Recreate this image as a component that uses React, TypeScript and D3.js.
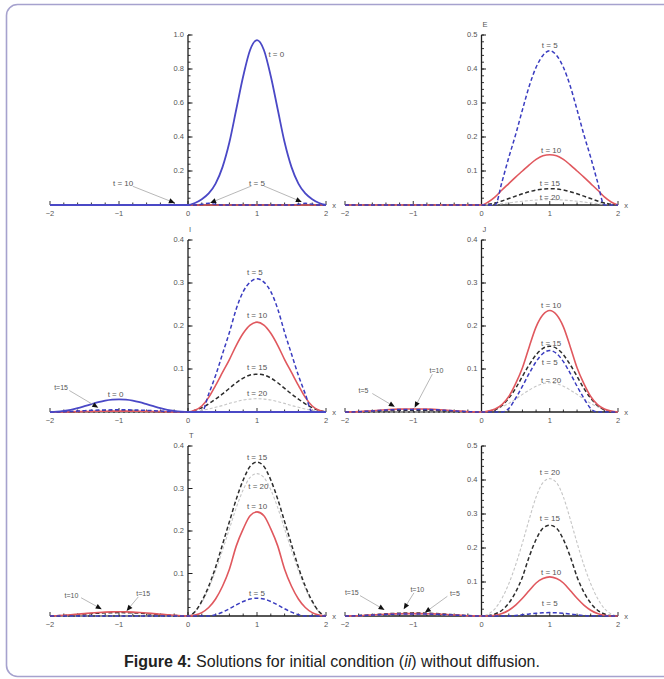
import React from "react";
import * as d3 from "d3";

// x grid shared by every curve
const xs = [-2, -1.9, -1.8, -1.7, -1.6, -1.5, -1.4, -1.3, -1.2, -1.1, -1, -0.9, -0.8, -0.7, -0.6, -0.5, -0.4, -0.3, -0.2, -0.1,
  0, 0.1, 0.2, 0.3, 0.4, 0.5, 0.6, 0.7, 0.8, 0.9, 1, 1.1, 1.2, 1.3, 1.4, 1.5, 1.6, 1.7, 1.8, 1.9, 2];
const xTicks = [-2, -1, 0, 1, 2];

// S panel
const sT0 = [0, 0, 0, 0, 0, 0, 0, 0, 0, 0, 0, 0, 0, 0, 0, 0, 0, 0, 0, 0,
  0, 0.012, 0.034, 0.068, 0.126, 0.223, 0.369, 0.563, 0.757, 0.912, 0.97, 0.912, 0.757, 0.563, 0.369, 0.223, 0.126, 0.068, 0.034, 0.012, 0];
const sT5 = [0, 0, 0, 0, 0, 0, 0, 0, 0, 0, 0, 0, 0, 0, 0, 0, 0, 0, 0, 0,
  0, 0, 0.004, 0.01, 0.004, 0, 0, 0, 0, 0, 0, 0, 0, 0, 0, 0, 0.004, 0.01, 0.004, 0, 0];
const sT10 = [0, 0, 0, 0, 0, 0, 0, 0, 0, 0, 0, 0, 0, 0, 0, 0, 0, 0, 0, 0,
  0, 0, 0, 0, 0, 0, 0, 0, 0, 0, 0, 0, 0, 0, 0, 0, 0, 0, 0, 0, 0];
const sT15 = [0, 0, 0, 0, 0, 0, 0, 0, 0, 0, 0, 0, 0, 0, 0, 0, 0, 0, 0, 0,
  0, 0, 0, 0, 0, 0, 0, 0, 0, 0, 0, 0, 0, 0, 0, 0, 0, 0, 0, 0, 0];

// E panel
const eT5 = [0, 0, 0, 0, 0, 0, 0, 0, 0, 0, 0, 0, 0, 0, 0, 0, 0, 0, 0, 0,
  0, 0, 0, 0.068, 0.14, 0.207, 0.28, 0.35, 0.405, 0.44, 0.454, 0.44, 0.405, 0.35, 0.28, 0.207, 0.14, 0.068, 0, 0, 0];
const eT10 = [0, 0, 0, 0, 0, 0, 0, 0, 0, 0, 0, 0, 0, 0, 0, 0, 0, 0, 0, 0,
  0, 0.009, 0.024, 0.044, 0.063, 0.082, 0.1, 0.118, 0.134, 0.145, 0.148, 0.145, 0.134, 0.118, 0.1, 0.082, 0.063, 0.044, 0.024, 0.009, 0];
const eT15 = [0, 0, 0, 0, 0, 0, 0, 0, 0, 0, 0, 0, 0, 0, 0, 0, 0, 0, 0, 0,
  0, 0.002, 0.006, 0.012, 0.019, 0.026, 0.033, 0.039, 0.044, 0.047, 0.048, 0.047, 0.044, 0.039, 0.033, 0.026, 0.019, 0.012, 0.006, 0.002, 0];
const eT20 = [0, 0, 0, 0, 0, 0, 0, 0, 0, 0, 0, 0, 0, 0, 0, 0, 0, 0, 0, 0,
  0, 0.0007, 0.002, 0.004, 0.0063, 0.0087, 0.011, 0.013, 0.0145, 0.0155, 0.016, 0.0155, 0.0145, 0.013, 0.011, 0.0087, 0.0063, 0.004, 0.002, 0.0007, 0];

// I panel
const iT0 = [0, 0.0008, 0.0025, 0.0052, 0.009, 0.0135, 0.0182, 0.0228, 0.0265, 0.0288, 0.0295, 0.0288, 0.0265, 0.0228, 0.0182, 0.0135, 0.009, 0.0052, 0.0025, 0.0008,
  0, 0, 0, 0, 0, 0, 0, 0, 0, 0, 0, 0, 0, 0, 0, 0, 0, 0, 0, 0, 0];
const iT5 = [0, 0.0002, 0.0007, 0.0014, 0.0022, 0.003, 0.0038, 0.0044, 0.0048, 0.005, 0.005, 0.005, 0.0048, 0.0044, 0.0038, 0.003, 0.0022, 0.0014, 0.0007, 0.0002,
  0, 0, 0, 0.042, 0.085, 0.135, 0.185, 0.24, 0.28, 0.302, 0.31, 0.302, 0.28, 0.24, 0.185, 0.135, 0.085, 0.042, 0, 0, 0];
const iT10 = [0, 0, 0.0002, 0.0005, 0.0008, 0.0011, 0.0014, 0.0017, 0.0019, 0.002, 0.002, 0.002, 0.0019, 0.0017, 0.0014, 0.0011, 0.0008, 0.0005, 0.0002, 0,
  0, 0.004, 0.014, 0.034, 0.062, 0.092, 0.122, 0.155, 0.183, 0.202, 0.209, 0.202, 0.183, 0.155, 0.122, 0.092, 0.062, 0.034, 0.014, 0.004, 0];
const iT15 = [0, 0.0001, 0.0003, 0.0007, 0.0011, 0.0016, 0.0021, 0.0025, 0.0028, 0.003, 0.003, 0.003, 0.0028, 0.0025, 0.0021, 0.0016, 0.0011, 0.0007, 0.0003, 0.0001,
  0, 0.004, 0.01, 0.019, 0.03, 0.042, 0.055, 0.068, 0.079, 0.086, 0.088, 0.086, 0.079, 0.068, 0.055, 0.042, 0.03, 0.019, 0.01, 0.004, 0];
const iT20 = [0, 0, 0, 0, 0, 0, 0, 0, 0, 0, 0, 0, 0, 0, 0, 0, 0, 0, 0, 0,
  0, 0.001, 0.004, 0.007, 0.011, 0.015, 0.02, 0.024, 0.028, 0.03, 0.031, 0.03, 0.028, 0.024, 0.02, 0.015, 0.011, 0.007, 0.004, 0.001, 0];

// J panel
const jT5 = [0, 0.0002, 0.0008, 0.0017, 0.0026, 0.0036, 0.0046, 0.0053, 0.0058, 0.006, 0.006, 0.006, 0.0058, 0.0053, 0.0046, 0.0036, 0.0026, 0.0017, 0.0008, 0.0002,
  0, 0, 0, 0, 0.008, 0.032, 0.06, 0.09, 0.117, 0.136, 0.143, 0.136, 0.117, 0.09, 0.06, 0.032, 0.008, 0, 0, 0, 0];
const jT10 = [0, 0.0003, 0.0009, 0.002, 0.003, 0.0042, 0.0053, 0.0062, 0.0068, 0.007, 0.007, 0.007, 0.0068, 0.0062, 0.0053, 0.0042, 0.003, 0.002, 0.0009, 0.0003,
  0, 0.002, 0.007, 0.017, 0.036, 0.066, 0.103, 0.152, 0.198, 0.226, 0.236, 0.226, 0.198, 0.152, 0.103, 0.066, 0.036, 0.017, 0.007, 0.002, 0];
const jT15 = [0, 0.0001, 0.0005, 0.0011, 0.0017, 0.0024, 0.003, 0.0035, 0.0039, 0.004, 0.004, 0.004, 0.0039, 0.0035, 0.003, 0.0024, 0.0017, 0.0011, 0.0005, 0.0001,
  0, 0.001, 0.005, 0.015, 0.032, 0.055, 0.083, 0.11, 0.133, 0.148, 0.153, 0.148, 0.133, 0.11, 0.083, 0.055, 0.032, 0.015, 0.005, 0.001, 0];
const jT20 = [0, 0, 0, 0, 0, 0, 0, 0, 0, 0, 0, 0, 0, 0, 0, 0, 0, 0, 0, 0,
  0, 0.002, 0.006, 0.012, 0.02, 0.03, 0.041, 0.051, 0.06, 0.066, 0.068, 0.066, 0.06, 0.051, 0.041, 0.03, 0.02, 0.012, 0.006, 0.002, 0];

// T panel
const tT5 = [0, 0, 0, 0, 0, 0, 0, 0, 0, 0, 0, 0, 0, 0, 0, 0, 0, 0, 0, 0,
  0, 0, 0, 0, 0.003, 0.009, 0.017, 0.026, 0.034, 0.04, 0.042, 0.04, 0.034, 0.026, 0.017, 0.009, 0.003, 0, 0, 0, 0];
const tT10 = [0, 0.0006, 0.0016, 0.0028, 0.0042, 0.0056, 0.007, 0.0082, 0.0092, 0.0098, 0.01, 0.0098, 0.0092, 0.0082, 0.007, 0.0056, 0.0042, 0.0028, 0.0016, 0.0006,
  0, 0.002, 0.008, 0.02, 0.04, 0.07, 0.11, 0.165, 0.205, 0.236, 0.245, 0.236, 0.205, 0.165, 0.11, 0.07, 0.04, 0.02, 0.008, 0.002, 0];
const tT15 = [0, 0.0005, 0.0013, 0.0022, 0.0034, 0.0045, 0.0056, 0.0066, 0.0074, 0.0078, 0.008, 0.0078, 0.0074, 0.0066, 0.0056, 0.0045, 0.0034, 0.0022, 0.0013, 0.0005,
  0, 0.01, 0.035, 0.07, 0.115, 0.168, 0.222, 0.275, 0.32, 0.352, 0.362, 0.352, 0.32, 0.275, 0.222, 0.168, 0.115, 0.07, 0.035, 0.01, 0];
const tT20 = [0, 0, 0, 0, 0, 0, 0, 0, 0, 0, 0, 0, 0, 0, 0, 0, 0, 0, 0, 0,
  0, 0.01, 0.032, 0.065, 0.107, 0.155, 0.205, 0.255, 0.297, 0.326, 0.335, 0.326, 0.297, 0.255, 0.205, 0.155, 0.107, 0.065, 0.032, 0.01, 0];

// R panel
const rT5 = [0, 0.0002, 0.0008, 0.0017, 0.0026, 0.0036, 0.0046, 0.0053, 0.0058, 0.006, 0.006, 0.006, 0.0058, 0.0053, 0.0046, 0.0036, 0.0026, 0.0017, 0.0008, 0.0002,
  0, 0, 0, 0, 0, 0.0015, 0.0035, 0.006, 0.008, 0.0095, 0.01, 0.0095, 0.008, 0.006, 0.0035, 0.0015, 0, 0, 0, 0, 0];
const rT10 = [0, 0.0003, 0.0009, 0.002, 0.003, 0.0042, 0.0053, 0.0062, 0.0068, 0.007, 0.007, 0.007, 0.0068, 0.0062, 0.0053, 0.0042, 0.003, 0.002, 0.0009, 0.0003,
  0, 0, 0.002, 0.007, 0.017, 0.032, 0.052, 0.075, 0.097, 0.11, 0.115, 0.11, 0.097, 0.075, 0.052, 0.032, 0.017, 0.007, 0.002, 0, 0];
const rT15 = [0, 0.0005, 0.0014, 0.0025, 0.0038, 0.005, 0.0063, 0.0074, 0.0083, 0.0088, 0.009, 0.0088, 0.0083, 0.0074, 0.0063, 0.005, 0.0038, 0.0025, 0.0014, 0.0005,
  0, 0.001, 0.006, 0.017, 0.038, 0.07, 0.115, 0.175, 0.225, 0.258, 0.267, 0.258, 0.225, 0.175, 0.115, 0.07, 0.038, 0.017, 0.006, 0.001, 0];
const rT20 = [0, 0.0002, 0.0007, 0.0014, 0.0022, 0.003, 0.0038, 0.0044, 0.0048, 0.005, 0.005, 0.005, 0.0048, 0.0044, 0.0038, 0.003, 0.0022, 0.0014, 0.0007, 0.0002,
  0, 0.006, 0.022, 0.052, 0.095, 0.15, 0.215, 0.285, 0.35, 0.392, 0.404, 0.392, 0.35, 0.285, 0.215, 0.15, 0.095, 0.052, 0.022, 0.006, 0];

// curve labels placed in data coordinates
const sLabels = [{ text: "t = 0", x: 1.28, y: 0.89 }, { text: "t = 10", x: -0.94, y: 0.128 }, { text: "t = 5", x: 1.0, y: 0.128 }];
const eLabels = [{ text: "t = 5", x: 1.0, y: 0.47 }, { text: "t = 10", x: 1.02, y: 0.162 }, { text: "t = 15", x: 1.0, y: 0.065 }, { text: "t = 20", x: 1.0, y: 0.023 }];
const iLabels = [{ text: "t = 5", x: 0.97, y: 0.326 }, { text: "t = 10", x: 1.0, y: 0.225 }, { text: "t = 15", x: 1.0, y: 0.105 }, { text: "t = 20", x: 1.0, y: 0.044 }, { text: "t = 0", x: -1.05, y: 0.042 }, { text: "t=15", x: -1.84, y: 0.058 }];
const jLabels = [{ text: "t = 10", x: 1.02, y: 0.248 }, { text: "t = 15", x: 1.02, y: 0.159 }, { text: "t = 5", x: 1.0, y: 0.116 }, { text: "t = 20", x: 1.02, y: 0.075 }, { text: "t=5", x: -1.73, y: 0.05 }, { text: "t=10", x: -0.66, y: 0.097 }];
const tLabels = [{ text: "t = 15", x: 1.0, y: 0.374 }, { text: "t = 20", x: 1.02, y: 0.305 }, { text: "t = 10", x: 1.0, y: 0.258 }, { text: "t = 5", x: 1.0, y: 0.053 }, { text: "t=10", x: -1.69, y: 0.049 }, { text: "t=15", x: -0.65, y: 0.052 }];
const rLabels = [{ text: "t = 20", x: 1.0, y: 0.423 }, { text: "t = 15", x: 1.0, y: 0.289 }, { text: "t = 10", x: 1.02, y: 0.13 }, { text: "t = 5", x: 1.0, y: 0.037 }, { text: "t=15", x: -1.9, y: 0.07 }, { text: "t=10", x: -0.94, y: 0.079 }, { text: "t=5", x: -0.39, y: 0.067 }];

// arrows: [fromX, fromY, toX, toY]
const sArrows = [[-0.8, 0.11, -0.19, 0.012], [0.92, 0.112, 0.32, 0.012], [1.1, 0.112, 1.65, 0.018]];
const iArrows = [[-1.72, 0.05, -1.3, 0.01]];
const jArrows = [[-1.6, 0.043, -1.27, 0.012], [-0.72, 0.088, -0.98, 0.01]];
const tArrows = [[-1.55, 0.043, -1.25, 0.016], [-0.72, 0.045, -0.89, 0.012]];
const rArrows = [[-1.78, 0.06, -1.42, 0.018], [-0.99, 0.068, -1.14, 0.02], [-0.5, 0.058, -0.83, 0.01]];

const FONT = "'Liberation Sans', Arial, sans-serif";

const lineStyle: Record<string, { stroke: string; width: number; dash?: string }> = {
  t0: { stroke: "#4a48c6", width: 1.8 },
  t5: { stroke: "#3a3cc0", width: 1.5, dash: "4,2.5" },
  t10: { stroke: "#e0585e", width: 1.6 },
  t15: { stroke: "#2c2c2c", width: 1.5, dash: "4,2.5" },
  t20: { stroke: "#c6c6c6", width: 1.1, dash: "3,2" },
};

const cols = [[50, 326], [345, 618]];
const rows = [[205, 35], [412, 240], [616, 446]];

const panels = [
  { col: 0, row: 0, yMax: 1.0, major: 0.2, minor: 0.04, name: "", labels: sLabels, arrows: sArrows,
    series: [["t15", sT15], ["t10", sT10], ["t5", sT5], ["t0", sT0]] },
  { col: 1, row: 0, yMax: 0.5, major: 0.1, minor: 0.02, name: "E", labels: eLabels, arrows: [],
    series: [["t20", eT20], ["t15", eT15], ["t10", eT10], ["t5", eT5]] },
  { col: 0, row: 1, yMax: 0.4, major: 0.1, minor: 0.02, name: "I", labels: iLabels, arrows: iArrows,
    series: [["t20", iT20], ["t15", iT15], ["t10", iT10], ["t5", iT5], ["t0", iT0]] },
  { col: 1, row: 1, yMax: 0.4, major: 0.1, minor: 0.02, name: "J", labels: jLabels, arrows: jArrows,
    series: [["t20", jT20], ["t15", jT15], ["t10", jT10], ["t5", jT5]] },
  { col: 0, row: 2, yMax: 0.4, major: 0.1, minor: 0.02, name: "T", labels: tLabels, arrows: tArrows,
    series: [["t20", tT20], ["t15", tT15], ["t10", tT10], ["t5", tT5]] },
  { col: 1, row: 2, yMax: 0.5, major: 0.1, minor: 0.02, name: "", labels: rLabels, arrows: rArrows,
    series: [["t20", rT20], ["t15", rT15], ["t10", rT10], ["t5", rT5]] },
];

const Panel = ({ p }: { p: any }) => {
  const x = d3.scaleLinear().domain([-2, 2]).range(cols[p.col]);
  const y = d3.scaleLinear().domain([0, p.yMax]).range(rows[p.row]);
  const x0 = x(0);
  const yb = y(0);
  const line = d3.line<number>().x((_, i) => x(xs[i])).y((v) => y(v)).curve(d3.curveMonotoneX);
  const yMajor = d3.range(1, Math.round(p.yMax / p.major) + 1).map((k) => k * p.major);
  const yMinor = d3.range(1, Math.round(p.yMax / p.minor) + 1).map((k) => k * p.minor);
  const xMinor = d3.range(0, 21).map((k) => -2 + k * 0.2);
  const fmt = d3.format(".1f");
  return (
    <g>
      {/* axes */}
      <line x1={x(-2)} x2={x(2)} y1={yb} y2={yb} stroke="#1e1e1e" strokeWidth={1.3} />
      <line x1={x0} x2={x0} y1={yb} y2={y(p.yMax)} stroke="#1e1e1e" strokeWidth={1.3} />
      {xMinor.map((t, i) => (
        <line key={"xm" + i} x1={x(t)} x2={x(t)} y1={yb} y2={yb - (Math.abs(t - Math.round(t)) < 1e-6 ? 4 : 2.5)} stroke="#1e1e1e" strokeWidth={0.9} />
      ))}
      {yMinor.map((t, i) => (
        <line key={"ym" + i} x1={x0} x2={x0 + 2.5} y1={y(t)} y2={y(t)} stroke="#1e1e1e" strokeWidth={0.9} />
      ))}
      {yMajor.map((t, i) => (
        <g key={"yM" + i}>
          <line x1={x0} x2={x0 + 4.5} y1={y(t)} y2={y(t)} stroke="#1e1e1e" strokeWidth={1} />
          <text x={x0 - 4} y={y(t)} dy="0.33em" textAnchor="end" fontSize={7.5} fill="#555" fontFamily={FONT}>{fmt(t)}</text>
        </g>
      ))}
      {xTicks.map((t) => (
        <text key={"xt" + t} x={x(t)} y={yb + 11} textAnchor="middle" fontSize={7.5} fill="#555" fontFamily={FONT}>
          {t < 0 ? "\u2212" + Math.abs(t) : String(t)}
        </text>
      ))}
      <text x={x(2) + 8} y={yb + 3} textAnchor="middle" fontSize={7.5} fill="#555" fontFamily={FONT}>x</text>
      {p.name && (
        <text x={x0 + 1} y={y(p.yMax) - 8} fontSize={7.5} fill="#555" fontFamily={FONT}>{p.name}</text>
      )}
      {/* curves */}
      {p.series.map(([k, vals]: [string, number[]]) => {
        const st = lineStyle[k];
        return (
          <path key={k} d={line(vals) || ""} fill="none" stroke={st.stroke} strokeWidth={st.width}
            strokeDasharray={st.dash} strokeLinejoin="round" />
        );
      })}
      {/* annotation arrows */}
      {p.arrows.map((a: number[], i: number) => {
        const [fx, fy, tx, ty] = [x(a[0]), y(a[1]), x(a[2]), y(a[3])];
        const ang = Math.atan2(ty - fy, tx - fx);
        const L = 6, Wd = 2.6;
        const bx = tx - L * Math.cos(ang), by = ty - L * Math.sin(ang);
        const pts = [
          [tx, ty],
          [bx + Wd * Math.sin(ang), by - Wd * Math.cos(ang)],
          [bx - Wd * Math.sin(ang), by + Wd * Math.cos(ang)],
        ].map((q) => q.join(",")).join(" ");
        return (
          <g key={"ar" + i}>
            <line x1={fx} y1={fy} x2={bx} y2={by} stroke="#b0b0b0" strokeWidth={0.9} />
            <polygon points={pts} fill="#111" />
          </g>
        );
      })}
      {p.labels.map((l: any, i: number) => (
        <text key={"lb" + i} x={x(l.x)} y={y(l.y)} dy="0.35em" textAnchor="middle"
          fontSize={l.text.includes(" ") ? 8 : 7} fill="#555" fontFamily={FONT}>{l.text}</text>
      ))}
    </g>
  );
};

export default function App() {
  return (
    <svg width={664} height={679} style={{ position: "absolute", left: 0, top: 0, background: "#fff" }}>
      <rect x={0} y={0} width={664} height={679} fill="#fff" />
      <rect x={6.5} y={4.5} width={700} height={672} rx={11} fill="none" stroke="#a6a2ce" strokeWidth={1.6} />
      {panels.map((p, i) => <Panel key={i} p={p} />)}
      <text x={332} y={667} textAnchor="middle" fontSize={16} fontFamily={FONT} fill="#222">
        <tspan fontWeight="bold">Figure 4:</tspan>
        <tspan> Solutions for initial condition (</tspan>
        <tspan fontStyle="italic">ii</tspan>
        <tspan>) without diffusion.</tspan>
      </text>
    </svg>
  );
}
